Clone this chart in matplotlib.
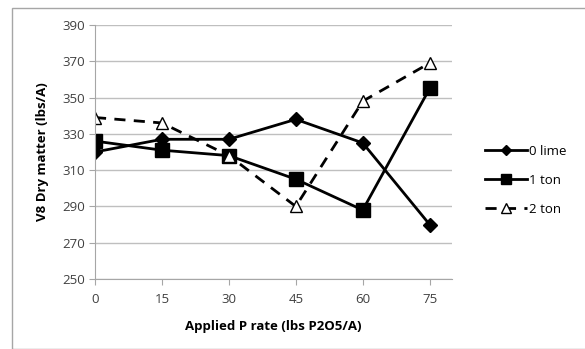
import matplotlib.pyplot as plt
from matplotlib.patches import Rectangle

# P rate (lbs P2O5/A) and V8 dry matter (lbs/A) for each lime rate
p_rate = [0, 15, 30, 45, 60, 75]
lime_0 = [320, 327, 327, 338, 325, 280]
ton_1 = [326, 321, 318, 305, 288, 355]
ton_2 = [339, 336, 318, 290, 348, 369]
y_ticks = [250, 270, 290, 310, 330, 350, 370, 390]

plt.rcParams['font.family'] = ['Open Sans', 'DejaVu Sans']

fig = plt.figure(figsize=(5.85, 3.49), dpi=100)
ax = fig.add_axes([0.1624, 0.2006, 0.6102, 0.7278])

# outer chart frame
fig.patches.append(Rectangle((12 / 585, 0.0), 1.2, 1 - 8 / 349, transform=fig.transFigure,
                             fill=False, edgecolor='#a6a6a6', linewidth=1.0))

ax.plot(p_rate, lime_0, color='black', linewidth=2, marker='D', markersize=7,
        markerfacecolor='black', label='0 lime')
ax.plot(p_rate, ton_1, color='black', linewidth=2, marker='s', markersize=10,
        markerfacecolor='black', label='1 ton')
ax.plot(p_rate, ton_2, color='black', linewidth=2, linestyle=(0, (4, 3)), marker='^',
        markersize=9, markerfacecolor='white', markeredgewidth=1, label='2 ton')

ax.set_xlim(0, 80)
ax.set_ylim(250, 390)
ax.set_xticks(p_rate)
ax.set_yticks(y_ticks)
ax.grid(axis='y', color='#bfbfbf', linewidth=1)
ax.set_axisbelow(True)

for side in ['top', 'right']:
    ax.spines[side].set_visible(False)
for side in ['left', 'bottom']:
    ax.spines[side].set_color('#a6a6a6')
ax.tick_params(axis='both', colors='#a6a6a6', labelcolor='#404040', labelsize=9.5, length=4)
ax.tick_params(axis='x', pad=6)

ax.set_xlabel('Applied P rate (lbs P2O5/A)', fontsize=9.5, fontweight='bold', labelpad=10)
ax.set_ylabel('V8 Dry matter (lbs/A)', fontsize=9.5, fontweight='bold', labelpad=9)

ax.legend(loc='center left', bbox_to_anchor=(1.058, 0.389), frameon=False, fontsize=9.5,
          handlelength=3.2, handletextpad=0.2, labelspacing=1.2, markerscale=0.75)

fig.savefig('out.png', dpi=100)
